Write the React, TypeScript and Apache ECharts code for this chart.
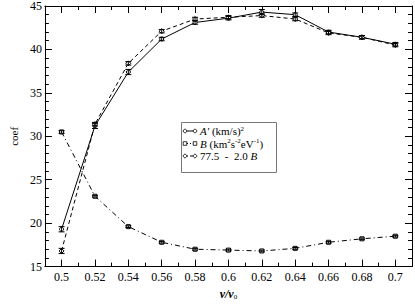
import React, { useEffect, useRef } from "react";
import * as echarts from "echarts";

const xValues = [0.5, 0.52, 0.54, 0.56, 0.58, 0.6, 0.62, 0.64, 0.66, 0.68, 0.7];
const aPrime = [19.3, 31.2, 37.4, 41.2, 43.1, 43.6, 44.3, 44.0, 42.0, 41.4, 40.6];
const aPrimeErr = [0.3, 0.3, 0.3, 0.2, 0.2, 0.2, 0.3, 0.2, 0.2, 0.2, 0.2];
const bValues = [30.5, 23.1, 19.6, 17.8, 17.0, 16.9, 16.8, 17.1, 17.8, 18.2, 18.5];
const bErr = [0.15, 0.1, 0.1, 0.1, 0.1, 0.1, 0.1, 0.1, 0.1, 0.1, 0.1];
const combo = [16.8, 31.4, 38.4, 42.1, 43.5, 43.7, 43.9, 43.5, 41.9, 41.4, 40.5];
const comboErr = [0.3, 0.2, 0.2, 0.2, 0.2, 0.2, 0.2, 0.2, 0.2, 0.2, 0.2];
const seriesNames = ["A'", "B", "77.5 - 2.0 B"];
const legendLabels = [
  "{i|A′}{n| (km/s)}{sup|2}",
  "{i|B}{n| (km}{sup|2}{n|s}{sup|-2}{n|eV}{sup|-1}{n|)}",
  "{n|77.5  -  2.0 }{i|B}",
];

const FONT = "Liberation Serif";
const DASH_B = [5, 3, 1, 3];
const DASH_C = [4, 3];

function errorSeries(values: number[], errs: number[]) {
  return {
    type: "custom",
    silent: true,
    z: 5,
    data: xValues.map((x, i) => [x, values[i] - errs[i], values[i] + errs[i]]),
    renderItem: (params: any, api: any) => {
      const lo = api.coord([api.value(0), api.value(1)]);
      const hi = api.coord([api.value(0), api.value(2)]);
      const w = 3;
      const style = { stroke: "#000", lineWidth: 1 };
      return {
        type: "group",
        children: [
          { type: "line", shape: { x1: lo[0], y1: lo[1], x2: hi[0], y2: hi[1] }, style },
          { type: "line", shape: { x1: lo[0] - w, y1: lo[1], x2: lo[0] + w, y2: lo[1] }, style },
          { type: "line", shape: { x1: hi[0] - w, y1: hi[1], x2: hi[0] + w, y2: hi[1] }, style },
        ],
      };
    },
  };
}

function legendMarker(kind: number, cx: number, cy: number) {
  const style = { fill: "#fff", stroke: "#000", lineWidth: 0.8 };
  if (kind === 0) return { type: "circle", shape: { cx, cy, r: 1.8 }, style, z: 102 };
  if (kind === 1) return { type: "rect", shape: { x: cx - 1.8, y: cy - 1.8, width: 3.6, height: 3.6 }, style, z: 102 };
  return {
    type: "polygon",
    shape: { points: [[cx, cy - 2.2], [cx + 2.2, cy], [cx, cy + 2.2], [cx - 2.2, cy]] },
    style,
    z: 102,
  };
}

export default function App() {
  const ref = useRef<HTMLDivElement>(null);
  useEffect(() => {
    if (!ref.current) return;
    const chart = echarts.init(ref.current, null, { renderer: "svg" });
    const axisLineStyle = { color: "#000", width: 1 };
    const xCommon = {
      type: "value",
      min: 0.49,
      max: 0.71,
      splitNumber: 11,
      minInterval: 0.02,
      maxInterval: 0.02,
      splitLine: { show: false },
      axisLine: { show: true, onZero: false, lineStyle: axisLineStyle },
      axisTick: { show: true, inside: true, length: 7, lineStyle: axisLineStyle },
      minorTick: { show: true, splitNumber: 2, length: 4, lineStyle: axisLineStyle },
    };
    const yCommon = {
      type: "value",
      min: 15,
      max: 45,
      interval: 5,
      splitLine: { show: false },
      axisLine: { show: true, onZero: false, lineStyle: axisLineStyle },
      axisTick: { show: true, inside: true, length: 7, lineStyle: axisLineStyle },
      minorTick: { show: true, splitNumber: 5, length: 4, lineStyle: axisLineStyle },
    };

    const boxX = 181;
    const boxY = 122;
    const rowYs = [131, 143.5, 156];
    const dashes: any[] = [null, [3, 2, 1, 2], [3, 2]];
    const legendChildren: any[] = [
      {
        type: "rect",
        shape: { x: boxX + 0.5, y: boxY + 0.5, width: 95, height: 50 },
        style: { fill: "#fff", stroke: "#777", lineWidth: 1 },
        z: 100,
      },
    ];
    rowYs.forEach((ry, k) => {
      legendChildren.push({
        type: "line",
        shape: { x1: 185, y1: ry, x2: 195, y2: ry },
        style: { stroke: "#000", lineWidth: 1, lineDash: dashes[k] },
        z: 101,
      });
      legendChildren.push(legendMarker(k, 185, ry));
      legendChildren.push(legendMarker(k, 195, ry));
      legendChildren.push({
        type: "text",
        x: 200,
        y: ry,
        z: 103,
        style: {
          text: legendLabels[k],
          verticalAlign: "middle",
          align: "left",
          fill: "#000",
          font: `11px "${FONT}"`,
          rich: {
            i: { fontFamily: FONT, fontSize: 11, fontStyle: "italic", fill: "#000" },
            n: { fontFamily: FONT, fontSize: 11, fill: "#000" },
            sup: { fontFamily: FONT, fontSize: 7, fill: "#000", verticalAlign: "top", padding: [0, 0, 5, 0] },
          },
        },
      });
    });

    chart.setOption({
      animation: false,
      backgroundColor: "#fff",
      grid: { left: 27, right: 3, top: 5.5, bottom: 28 },
      xAxis: [
        {
          ...xCommon,
          position: "bottom",
          axisLabel: {
            showMinLabel: false,
            showMaxLabel: false,
            margin: 4,
            color: "#000",
            fontFamily: FONT,
            fontSize: 12,
            formatter: (v: number) => String(+v.toFixed(2)),
          },
          name: "{b|v/v}{s|0}",
          nameLocation: "middle",
          nameGap: 15,
          nameTextStyle: {
            color: "#000",
            fontFamily: FONT,
            rich: {
              b: { fontFamily: FONT, fontSize: 12, fontStyle: "italic", fontWeight: "bold", color: "#000" },
              s: { fontFamily: FONT, fontSize: 7, color: "#000", verticalAlign: "bottom", padding: [6, 0, 0, 0] },
            },
          },
        },
        { ...xCommon, position: "top", axisLabel: { show: false } },
      ],
      yAxis: [
        {
          ...yCommon,
          position: "left",
          axisLabel: { margin: 3, color: "#000", fontFamily: FONT, fontSize: 12 },
          name: "coef",
          nameLocation: "middle",
          nameGap: 15,
          nameRotate: 90,
          nameTextStyle: { color: "#000", fontFamily: FONT, fontSize: 11 },
        },
        { ...yCommon, position: "right", axisLabel: { show: false } },
      ],
      graphic: [{ type: "group", children: legendChildren }],
      series: [
        {
          name: seriesNames[0],
          type: "line",
          data: xValues.map((x, i) => [x, aPrime[i]]),
          symbol: "circle",
          symbolSize: 4,
          itemStyle: { color: "#fff", borderColor: "#000", borderWidth: 1 },
          lineStyle: { color: "#000", width: 1, type: "solid" },
          z: 4,
        },
        {
          name: seriesNames[1],
          type: "line",
          data: xValues.map((x, i) => [x, bValues[i]]),
          symbol: "rect",
          symbolSize: 4,
          itemStyle: { color: "#fff", borderColor: "#000", borderWidth: 1 },
          lineStyle: { color: "#000", width: 1, type: DASH_B },
          z: 4,
        },
        {
          name: seriesNames[2],
          type: "line",
          data: xValues.map((x, i) => [x, combo[i]]),
          symbol: "diamond",
          symbolSize: 5,
          itemStyle: { color: "#fff", borderColor: "#000", borderWidth: 1 },
          lineStyle: { color: "#000", width: 1, type: DASH_C },
          z: 4,
        },
        errorSeries(aPrime, aPrimeErr),
        errorSeries(bValues, bErr),
        errorSeries(combo, comboErr),
      ],
    });
    return () => chart.dispose();
  }, []);
  return (
    <div
      ref={ref}
      style={{ position: "fixed", left: 0, top: 0, width: 415, height: 305, background: "#fff" }}
    />
  );
}
